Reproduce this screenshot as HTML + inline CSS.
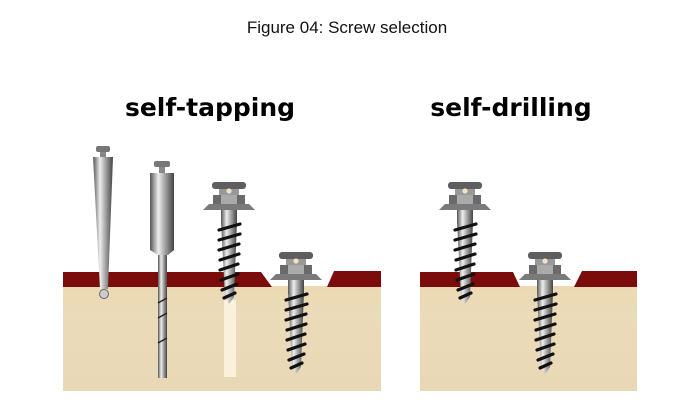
<!DOCTYPE html>
<html><head><style>
body{margin:0;background:#fff;width:694px;height:418px;overflow:hidden}
svg{display:block}
</style></head><body>
<svg width="694" height="418" viewBox="0 0 694 418" xmlns="http://www.w3.org/2000/svg">
<defs>
<linearGradient id="m" x1="0" x2="1" y1="0" y2="0">
<stop offset="0" stop-color="#555"/><stop offset="0.35" stop-color="#eee"/><stop offset="0.6" stop-color="#aaa"/><stop offset="1" stop-color="#444"/>
</linearGradient>
<linearGradient id="bone" x1="0" x2="0" y1="0" y2="1">
<stop offset="0" stop-color="#ecd9b2"/><stop offset="0.25" stop-color="#eadbb9"/><stop offset="1" stop-color="#e9d8b6"/>
</linearGradient>
<g id="screw">
<rect x="-17" y="0" width="34" height="7" rx="3" fill="#5e5e5e"/>
<rect x="-10" y="7" width="20" height="7" fill="#999"/>
<circle cx="0" cy="9" r="2.6" fill="#f3e2c0"/>
<rect x="-16" y="13" width="32" height="9" fill="#6a6a6a"/>
<rect x="-8" y="13" width="16" height="9" fill="#aaa"/>
<path d="M-20 22 H20 L26 28 H-26 Z" fill="#7a7a7a"/>
<rect x="-8" y="28" width="16" height="14" fill="url(#m)"/>
<path d="M-8 40 L8 40 L5 115 L0 122 L-4 115 Z" fill="url(#m)"/>
<g stroke="#111" stroke-width="3.2" stroke-linecap="round">
<line x1="-10" y1="48" x2="11" y2="42"/><line x1="-10" y1="58" x2="11" y2="52"/>
<line x1="-10" y1="68" x2="10" y2="62"/><line x1="-9" y1="78" x2="10" y2="72"/>
<line x1="-9" y1="88" x2="9" y2="82"/><line x1="-8" y1="98" x2="9" y2="92"/>
<line x1="-7" y1="108" x2="8" y2="102"/><line x1="-5" y1="116" x2="6" y2="111"/>
</g>
</g>
</defs>
<text x="347" y="33" font-family="Liberation Sans, sans-serif" font-size="17" text-anchor="middle" fill="#111">Figure 04: Screw selection</text>
<text x="210" y="116" font-family="DejaVu Sans, sans-serif" font-weight="bold" font-size="25" text-anchor="middle" fill="#000">self-tapping</text>
<text x="511" y="116" font-family="DejaVu Sans, sans-serif" font-weight="bold" font-size="25" text-anchor="middle" fill="#000">self-drilling</text>

<rect x="63" y="286" width="318" height="105" fill="url(#bone)"/>
<path d="M63 272 H261 L272 287 H63 Z" fill="#7b0c0c"/>
<path d="M327 287 L334 271 H381 V287 Z" fill="#7b0c0c"/>
<rect x="224" y="300" width="12" height="77" fill="#fbf0dc"/>
<rect x="96" y="146" width="14" height="6" rx="2" fill="#777"/>
<rect x="100" y="152" width="6" height="5" fill="#888"/>
<path d="M93 157 H113 L108 289 H100 Z" fill="url(#m)"/>
<circle cx="104" cy="294" r="4.5" fill="#ccc" stroke="#666" stroke-width="1"/>
<rect x="154" y="161" width="16" height="6" rx="2" fill="#777"/>
<rect x="159" y="167" width="6" height="6" fill="#888"/>
<path d="M150 173 H174 V250 L168 255 H158 L150 250 Z" fill="url(#m)"/>
<rect x="158" y="255" width="9" height="123" fill="url(#m)"/>
<g stroke="#222" stroke-width="1.5"><line x1="158" y1="303" x2="167" y2="298"/><line x1="158" y1="318" x2="167" y2="313"/><line x1="158" y1="343" x2="167" y2="338"/></g>
<use href="#screw" x="229" y="182"/>
<use href="#screw" x="296" y="252"/>

<rect x="420" y="286" width="217" height="105" fill="url(#bone)"/>
<path d="M420 272 H513 L520 287 H420 Z" fill="#7b0c0c"/>
<path d="M574 287 L582 271 H637 V287 Z" fill="#7b0c0c"/>
<use href="#screw" x="465" y="182"/>
<use href="#screw" x="545" y="252"/>
</svg>
</body></html>
